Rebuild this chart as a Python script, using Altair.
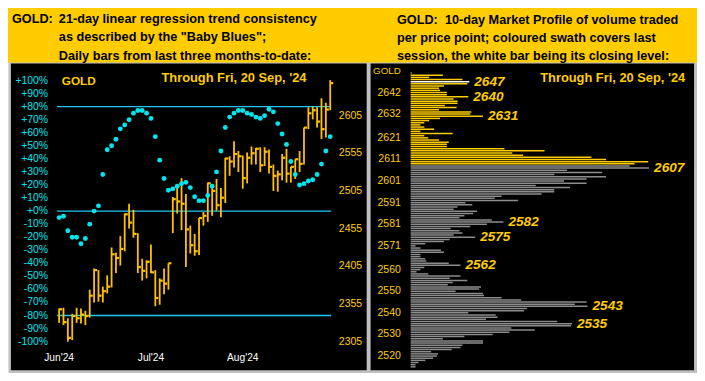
import altair as alt
import pandas as pd

# ---------------- canvas mapping (reference 705x381 -> chart 689x365) ----------------
W, H = 689, 365
SX, SY = W / 705.0, H / 381.0
def X(v): return round(v * SX, 2)
def Y(v): return round(v * SY, 2)

FONT = "Liberation Sans"
GOLD = "#FFCC00"
BARC = "#FFC000"
DOT = "#00E5EE"
LINE = "#1EC8F5"
GREY = "#8C8C8C"
FRAME = "#C0C0C0"

# ---------------- left panel data ----------------
bar_high = [2349, 2350, 2336, 2342, 2350, 2349, 2346, 2374, 2402, 2400, 2378, 2393, 2430, 2423, 2445, 2475,
            2488, 2480, 2449, 2415, 2413, 2434, 2400, 2389, 2402, 2409, 2497, 2510, 2522, 2501, 2459, 2448,
            2469, 2477, 2516, 2510, 2521, 2509, 2549, 2551, 2571, 2558, 2552, 2556, 2564, 2562, 2563, 2563,
            2560, 2540, 2532, 2554, 2561, 2537, 2547, 2558, 2589, 2616, 2617, 2616, 2628, 2622, 2652]
bar_low = [2330, 2327, 2305, 2307, 2330, 2329, 2327, 2337, 2357, 2358, 2357, 2369, 2377, 2396, 2406, 2425,
           2455, 2443, 2396, 2386, 2389, 2396, 2352, 2354, 2368, 2374, 2449, 2475, 2453, 2404, 2422, 2419,
           2420, 2459, 2464, 2472, 2479, 2470, 2489, 2525, 2536, 2530, 2508, 2515, 2540, 2540, 2530, 2538,
           2528, 2505, 2504, 2519, 2516, 2516, 2521, 2530, 2540, 2587, 2600, 2589, 2574, 2576, 2612]
bar_close = [2348, 2331, 2310, 2339, 2336, 2341, 2339, 2366, 2400, 2366, 2372, 2378, 2421, 2416, 2428, 2474,
             2463, 2448, 2404, 2399, 2411, 2397, 2363, 2386, 2382, 2409, 2494, 2491, 2488, 2454, 2433, 2425,
             2469, 2472, 2515, 2505, 2486, 2496, 2548, 2544, 2554, 2551, 2522, 2549, 2555, 2561, 2539, 2557,
             2537, 2525, 2527, 2549, 2528, 2537, 2547, 2541, 2589, 2608, 2612, 2597, 2587, 2613, 2648]
baby_blues = [-5, -4, -15, -20, -20, -25, -21, -10, 0, 4, 28, 47, 50, 55, 63, 66, 70, 75, 77, 77, 75, 71,
              57, 39, 25, 16, 17, 19, 21, 22, 18, 11, 8, 8, 12, 19, 30, 46, 64, 72, 75, 77, 77, 75, 74, 72,
              71, 73, 78, 76, 67, 59, 51, 38, 28, 20, 21, 23, 24, 28, 36, 46, 57]
months = ["Jun'24", "Jul'24", "Aug'24"]
month_bar = [0, 21, 42]
pct_ticks = [100, 90, 80, 70, 60, 50, 40, 30, 20, 10, 0, -10, -20, -30, -40, -50, -60, -70, -80, -90, -100]
price_ticks = [2605, 2555, 2505, 2455, 2405, 2355, 2305]
bb_levels = [80, 0, -80]

# ---------------- right panel data ----------------
profile_top = 2651
profile_volume = [1, 33, 19, 53, 60, 58, 34, 29, 30, 37, 37, 59, 44, 48, 48, 35, 47, 29, 62, 61, 74, 30,
                  19, 14, 10, 14, 24, 10, 43, 14, 18, 29, 39, 37, 37, 96, 137, 104, 115, 185, 200, 243,
                  229, 224, 244, 160, 196, 147, 200, 180, 157, 180, 128, 163, 147, 147, 134, 93, 86, 110,
                  56, 63, 48, 44, 68, 64, 55, 50, 83, 95, 78, 61, 41, 50, 53, 44, 66, 40, 34, 15, 5, 10,
                  31, 34, 10, 10, 15, 16, 39, 51, 14, 10, 6, 18, 51, 40, 58, 43, 38, 72, 70, 46, 74, 75,
                  93, 113, 180, 168, 181, 119, 116, 59, 87, 89, 77, 150, 165, 164, 103, 127, 101, 84, 55,
                  33, 74, 74, 53, 51, 42, 21, 28, 27, 23, 15, 8, 5, 5]
swath_low, swath_high = 2609, 2651
closing_level = 2647
profile_ticks = [2642, 2632, 2621, 2611, 2601, 2591, 2581, 2571, 2560, 2550, 2540, 2530, 2520]
peak_levels = [2647, 2640, 2631, 2607, 2582, 2575, 2562, 2543, 2535]

left_header = ["21-day linear regression trend consistency", "as described by the \"Baby Blues\";",
               "Daily bars from last three months-to-date:"]
right_header = ["GOLD:\u00a0 10-day Market Profile of volume traded", "per price point; coloured swath covers last",
                "session, the white bar being its closing level:"]
through = "Through Fri, 20 Sep, '24"

# ---------------- tables ----------------
n = len(bar_high)
ohlc = pd.DataFrame({"i": list(range(n)), "high": bar_high, "low": bar_low, "close": bar_close, "bb": baby_blues})
ohlc["i2"] = ohlc["i"] + 0.7
lv = pd.DataFrame({"lvl": bb_levels, "a": [-0.5] * 3, "b": [n - 0.8] * 3})
pct_df = pd.DataFrame({"v": pct_ticks, "t": [("+" if v >= 0 else "") + str(v) + "%" for v in pct_ticks]})
price_df = pd.DataFrame({"v": price_ticks, "t": [str(v) for v in price_ticks]})
mon_df = pd.DataFrame({"i": month_bar, "t": months})

prices = [profile_top - k for k in range(len(profile_volume))]
prof = pd.DataFrame({"price": prices, "vol": profile_volume})
prof["zero"] = 0
prof["kind"] = ["close" if p == closing_level else ("swath" if swath_low <= p <= swath_high else "other")
                for p in prices]
ptick_df = pd.DataFrame({"v": profile_ticks, "t": [str(v) for v in profile_ticks]})
vol_by_price = dict(zip(prices, profile_volume))
peak_df = pd.DataFrame({"price": peak_levels, "vol": [vol_by_price[p] for p in peak_levels],
                        "t": [str(p) for p in peak_levels]})

# ---------------- scales ----------------
xL = alt.Scale(domain=[0, n - 1], range=[X(52.3), X(329.7)], zero=False, nice=False)
yPct = alt.Scale(domain=[-100, 100], range=[Y(348.3), Y(75.7)], zero=False, nice=False)
yPx = alt.Scale(domain=[2305, 2651.5], range=[Y(348.3), Y(75.7)], zero=False, nice=False)
xR = alt.Scale(domain=[0, 245], range=[X(412), X(657)], zero=False, nice=False)
yR = alt.Scale(domain=[2520, 2642], range=[Y(363.3), Y(88.2)], zero=False, nice=False)

one = pd.DataFrame({"a": [0]})

def rect(x0, x1, y0, y1, color):
    return alt.Chart(one).mark_rect(color=color).encode(
        x=alt.value(X(x0)), x2=alt.value(X(x1)), y=alt.value(Y(y0)), y2=alt.value(Y(y1)))

def label(txt, x, y, size, color, align="left", weight="normal", style="normal"):
    return alt.Chart(pd.DataFrame({"t": [txt]})).mark_text(
        align=align, baseline="middle", font=FONT, fontSize=size, fontWeight=weight,
        fontStyle=style, color=color).encode(text="t:N", x=alt.value(X(x)), y=alt.value(Y(y)))

HDR = 12.7
layers = [
    rect(0, 705, 0, 57, GOLD),
    rect(3, 367, 58, 378, "#000000"),
    rect(371, 702, 58, 378, "#000000"),
]
layers.append(label("GOLD:", 4, 11, HDR, "#000000", weight="bold"))
for txt, yy in zip(left_header, [11, 30.5, 50]):
    layers.append(label(txt, 52, yy, HDR, "#000000", weight="bold"))
for txt, yy in zip(right_header, [12.5, 31.5, 50]):
    layers.append(label(txt, 398, yy, HDR, "#000000", weight="bold"))
layers.append(label("GOLD", 55, 75.7, 11.8, GOLD, weight="bold"))
layers.append(label(through, 157, 73.3, 12.85, GOLD, weight="bold"))
layers.append(label(through, 693, 73.3, 12.85, GOLD, align="right", weight="bold"))
layers.append(label("GOLD", 402, 66, 9.8, GOLD, align="right"))

base = alt.Chart(ohlc)
layers += [
    alt.Chart(lv).mark_rule(color=LINE, strokeWidth=1.4).encode(
        x=alt.X("a:Q", scale=xL, axis=None), x2="b:Q", y=alt.Y("lvl:Q", scale=yPct, axis=None)),
    base.mark_rule(color=BARC, strokeWidth=1.8).encode(
        x=alt.X("i:Q", scale=xL, axis=None), y=alt.Y("low:Q", scale=yPx, axis=None), y2="high:Q"),
    base.mark_rule(color=BARC, strokeWidth=2.2).encode(
        x=alt.X("i:Q", scale=xL, axis=None), x2="i2:Q", y=alt.Y("close:Q", scale=yPx, axis=None)),
    base.mark_point(filled=True, shape="circle", size=24, opacity=1, color=DOT).encode(
        x=alt.X("i:Q", scale=xL, axis=None), y=alt.Y("bb:Q", scale=yPct, axis=None)),
    alt.Chart(pct_df).mark_text(align="right", baseline="middle", font=FONT, fontSize=10.4, color=DOT).encode(
        text="t:N", x=alt.value(X(41)), y=alt.Y("v:Q", scale=yPct, axis=None)),
    alt.Chart(price_df).mark_text(align="left", baseline="middle", font=FONT, fontSize=10.5, color=GOLD).encode(
        text="t:N", x=alt.value(X(338.5)), y=alt.Y("v:Q", scale=yPx, axis=None)),
    alt.Chart(mon_df).mark_text(align="center", baseline="middle", font=FONT, fontSize=10.2, color="#FFFFFF").encode(
        text="t:N", x=alt.X("i:Q", scale=xL, axis=None), y=alt.value(Y(365))),
    alt.Chart(prof).mark_rule(strokeWidth=1.5).encode(
        x=alt.X("zero:Q", scale=xR, axis=None), x2="vol:Q",
        y=alt.Y("price:Q", scale=yR, axis=None),
        color=alt.Color("kind:N", scale=alt.Scale(domain=["close", "swath", "other"],
                                                  range=["#FFFFFF", GOLD, GREY]), legend=None)),
    alt.Chart(ptick_df).mark_text(align="right", baseline="middle", font=FONT, fontSize=10.5, color=GOLD).encode(
        text="t:N", x=alt.value(X(402)), y=alt.Y("v:Q", scale=yR, axis=None)),
    alt.Chart(peak_df).mark_text(align="left", baseline="middle", dx=5, font=FONT, fontSize=13.6,
                                 fontWeight="bold", fontStyle="italic", color=GOLD).encode(
        text="t:N", x=alt.X("vol:Q", scale=xR, axis=None), y=alt.Y("price:Q", scale=yR, axis=None)),
]

chart = alt.layer(*layers).resolve_scale(x="independent", y="independent", color="independent").properties(
    width=W, height=H, padding=0, autosize=alt.AutoSizeParams(type="none")
).configure_view(strokeWidth=0).configure(background=FRAME)

chart.save("out.html", embed_options={"renderer": "svg", "actions": False})
